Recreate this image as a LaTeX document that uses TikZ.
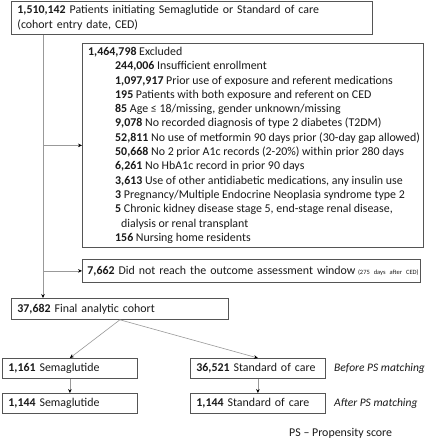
\documentclass[tikz,border=0pt]{standalone}
\usepackage{fontspec}
\setmainfont{Carlito}
\usetikzlibrary{arrows.meta,calc}
\definecolor{boxgray}{HTML}{555555}
\definecolor{linegray}{HTML}{999999}
\definecolor{txt}{HTML}{1A1A1A}
\newcommand{\fs}{\fontsize{11.9}{14.3}\selectfont}
\begin{document}
\begin{tikzpicture}[x=1pt,y=-1pt,
  box/.style={draw=boxgray, line width=0.8pt, anchor=north west, align=left,
    inner xsep=6pt, inner ysep=0pt, font=\fs, text=txt},
  plain/.style={anchor=north west, align=left, inner sep=0pt, font=\fs, text=txt},
  arr/.style={draw=linegray, line width=0.6pt, -{Stealth[length=4pt,width=3.6pt,color=black]}}]
\useasboundingbox[fill=white] (0,0) rectangle (426,440);

\node[box, text width=349pt, minimum height=33pt] (top) at (11,1)
  {\textbf{1,510,142} Patients initiating Semaglutide or Standard of care\\(cohort entry date, CED)};

\node[box, minimum width=341pt, minimum height=204pt] (exc) at (82,43) {};
\node[plain] (exctext) at (88,47) {%
\textbf{1,464,798} Excluded\\
\hspace*{27pt}\textbf{244,006} Insufficient enrollment\\
\hspace*{27pt}\textbf{1,097,917} Prior use of exposure and referent medications\\
\hspace*{27pt}\textbf{195} Patients with both exposure and referent on CED\\
\hspace*{27pt}\textbf{85} Age \char"2264{} 18/missing, gender unknown/missing\\
\hspace*{27pt}\textbf{9,078} No recorded diagnosis of type 2 diabetes (T2DM)\\
\hspace*{27pt}\textbf{52,811} No use of metformin 90 days prior (30-day gap allowed)\\
\hspace*{27pt}\textbf{50,668} No 2 prior A1c records (2-20\%) within prior 280 days\\
\hspace*{27pt}\textbf{6,261} No HbA1c record in prior 90 days\\
\hspace*{27pt}\textbf{3,613} Use of other antidiabetic medications, any insulin use\\
\hspace*{27pt}\textbf{3} Pregnancy/Multiple Endocrine Neoplasia syndrome type 2\\
\hspace*{27pt}\textbf{5} Chronic kidney disease stage 5, end-stage renal disease,\\
\hspace*{33pt}dialysis or renal transplant\\
\hspace*{27pt}\textbf{156} Nursing home residents};

\node[box, text width=328pt, minimum height=23pt, inner xsep=5pt] (late) at (82,259)
  {\mbox{\textbf{7,662} Did not reach the outcome assessment window\hspace{2.5pt}{\fontsize{6.5}{8}\selectfont(275 days after CED)}}};

\node[box, text width=205pt, minimum height=21pt] (final) at (11,298)
  {\textbf{37,682} Final analytic cohort};

\node[box, text width=123pt, minimum height=20pt] (sema1) at (2,358) {\mbox{\textbf{1,161} Semaglutide}};
\node[box, text width=123pt, minimum height=20pt] (soc1) at (190,358) {\mbox{\textbf{36,521} Standard of care}};
\node[box, text width=123pt, minimum height=20pt] (sema2) at (2,393) {\mbox{\textbf{1,144} Semaglutide}};
\node[box, text width=123pt, minimum height=20pt] (soc2) at (190,393) {\mbox{\textbf{1,144} Standard of care}};

\node[plain, anchor=west, font=\fontsize{11.5}{14}\selectfont\itshape] (before) at (334,368) {Before PS matching};
\node[plain, anchor=west, font=\fontsize{11.5}{14}\selectfont\itshape] (after) at (334,403) {After PS matching};
\node[plain, anchor=west] (legend) at (289,433) {PS – Propensity score};

\coordinate (t0) at ([xshift=32pt]top.south west);
\draw[arr] (t0) -- (t0 |- final.north);
\draw[arr] (t0 |- exc.west) -- (exc.west);
\draw[arr] (t0 |- late.west) -- (late.west);
\draw[arr] (final.south) -- (sema1.north);
\draw[arr] (final.south) -- (soc1.north);
\draw[arr] (sema1.south) -- (sema2.north);
\draw[arr] (soc1.south) -- (soc2.north);
\end{tikzpicture}
\end{document}
